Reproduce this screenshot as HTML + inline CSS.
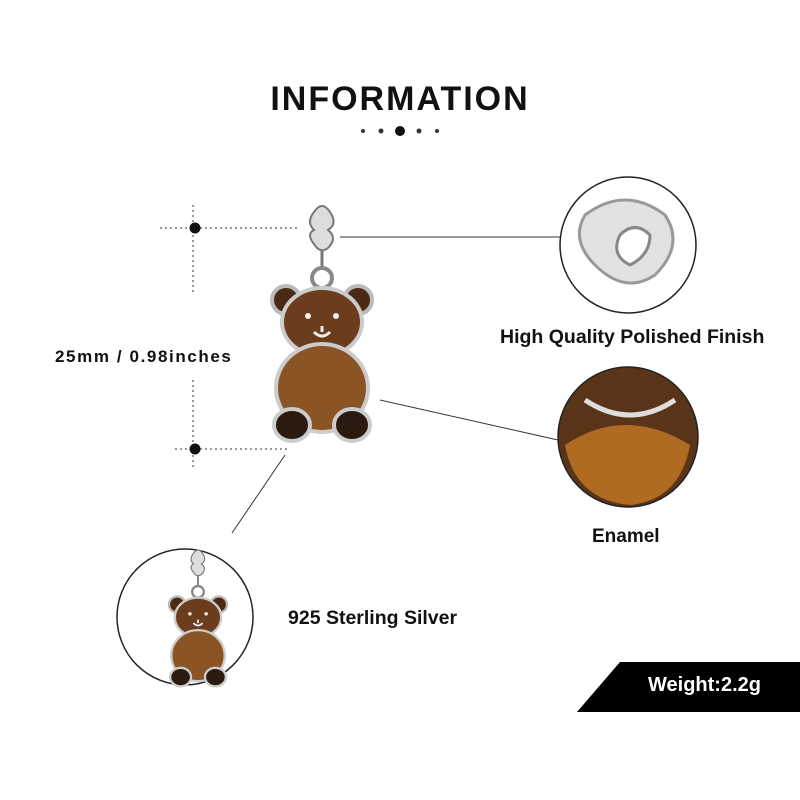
<!DOCTYPE html>
<html><head><meta charset="utf-8"><style>
html,body{margin:0;padding:0;background:#fff}
body{width:800px;height:800px;position:relative;overflow:hidden;font-family:"Liberation Sans",sans-serif}
.t{position:absolute;font-weight:bold;color:#111;white-space:nowrap}
</style></head><body>
<svg width="800" height="800" style="position:absolute;left:0;top:0">
<defs>
<g id="bear">
  <path d="M-8,-118 q8,-12 16,0 q8,12 -2,18 q10,8 0,18 q-8,6 -14,-4 q-8,-10 0,-14 q-8,-8 0,-18z" fill="#ddd" stroke="#777" stroke-width="2"/>
  <line x1="0" y1="-80" x2="0" y2="-62" stroke="#777" stroke-width="3"/>
  <circle cx="0" cy="-52" r="10" fill="none" stroke="#888" stroke-width="4"/>
  <circle cx="-36" cy="-30" r="14" fill="#4a2a14" stroke="#bbb" stroke-width="4"/>
  <circle cx="36" cy="-30" r="14" fill="#4a2a14" stroke="#bbb" stroke-width="4"/>
  <ellipse cx="0" cy="-8" rx="40" ry="34" fill="#6b3d1c" stroke="#ccc" stroke-width="4"/>
  <ellipse cx="0" cy="58" rx="46" ry="44" fill="#8a5424" stroke="#ccc" stroke-width="4"/>
  <ellipse cx="-30" cy="95" rx="18" ry="16" fill="#2a1a10" stroke="#ccc" stroke-width="4"/>
  <ellipse cx="30" cy="95" rx="18" ry="16" fill="#2a1a10" stroke="#ccc" stroke-width="4"/>
  <circle cx="-14" cy="-14" r="3" fill="#eee"/><circle cx="14" cy="-14" r="3" fill="#eee"/>
  <path d="M-8,2 q8,8 16,0 M0,-4 v6" stroke="#eee" stroke-width="3" fill="none"/>
</g>
</defs>
<circle cx="363" cy="131" r="2" fill="#333"/><circle cx="381" cy="131" r="2.5" fill="#333"/>
<circle cx="400" cy="131" r="5" fill="#111"/>
<circle cx="419" cy="131" r="2.5" fill="#333"/><circle cx="437" cy="131" r="2" fill="#333"/>
<g stroke="#333" stroke-width="1" stroke-dasharray="2,3" fill="none">
<line x1="160" y1="228" x2="300" y2="228"/>
<line x1="193" y1="205" x2="193" y2="295"/>
<line x1="193" y1="380" x2="193" y2="470"/>
<line x1="175" y1="449" x2="290" y2="449"/>
</g>
<circle cx="195" cy="228" r="5.5" fill="#111"/>
<circle cx="195" cy="449" r="5.5" fill="#111"/>
<g transform="translate(322,330)"><use href="#bear"/></g>
<g stroke="#333" stroke-width="1">
<line x1="340" y1="237" x2="560" y2="237"/>
<line x1="380" y1="400" x2="558" y2="440"/>
<line x1="232" y1="533" x2="285" y2="455"/>
</g>
<circle cx="628" cy="245" r="68" fill="#fff" stroke="#222" stroke-width="1.5"/>
<path d="M585,215 q40,-30 80,0 q20,30 -10,60 q-30,20 -60,-10 q-25,-25 -10,-50z" fill="#e2e2e2" stroke="#999" stroke-width="3"/>
<path d="M620,235 q15,-15 30,0 q0,20 -20,30 q-20,-10 -10,-30z" fill="#fff" stroke="#888" stroke-width="3"/>
<circle cx="628" cy="437" r="70" fill="#5a3418" stroke="#222" stroke-width="1.5"/>
<path d="M565,445 q60,-40 125,0 q-10,55 -60,60 q-55,-5 -65,-60z" fill="#b06a22"/>
<path d="M585,400 q45,30 90,0" stroke="#ddd" stroke-width="5" fill="none"/>
<circle cx="185" cy="617" r="68" fill="#fff" stroke="#222" stroke-width="1.5"/>
<g transform="translate(198,622) scale(0.58)"><use href="#bear"/></g>
<polygon points="620,662 800,662 800,712 577,712" fill="#000"/>
</svg>
<div class="t" style="left:0;width:800px;text-align:center;top:80px;font-size:34px;letter-spacing:2px">INFORMATION</div>
<div class="t" style="left:55px;top:347px;font-size:17px;letter-spacing:1.6px">25mm / 0.98inches</div>
<div class="t" style="left:500px;top:326px;font-size:19.5px">High Quality Polished Finish</div>
<div class="t" style="left:592px;top:526px;font-size:19px">Enamel</div>
<div class="t" style="left:288px;top:607px;font-size:19.5px">925 Sterling Silver</div>
<div class="t" style="left:648px;top:674px;font-size:20px;color:#fff">Weight:2.2g</div>
</body></html>
